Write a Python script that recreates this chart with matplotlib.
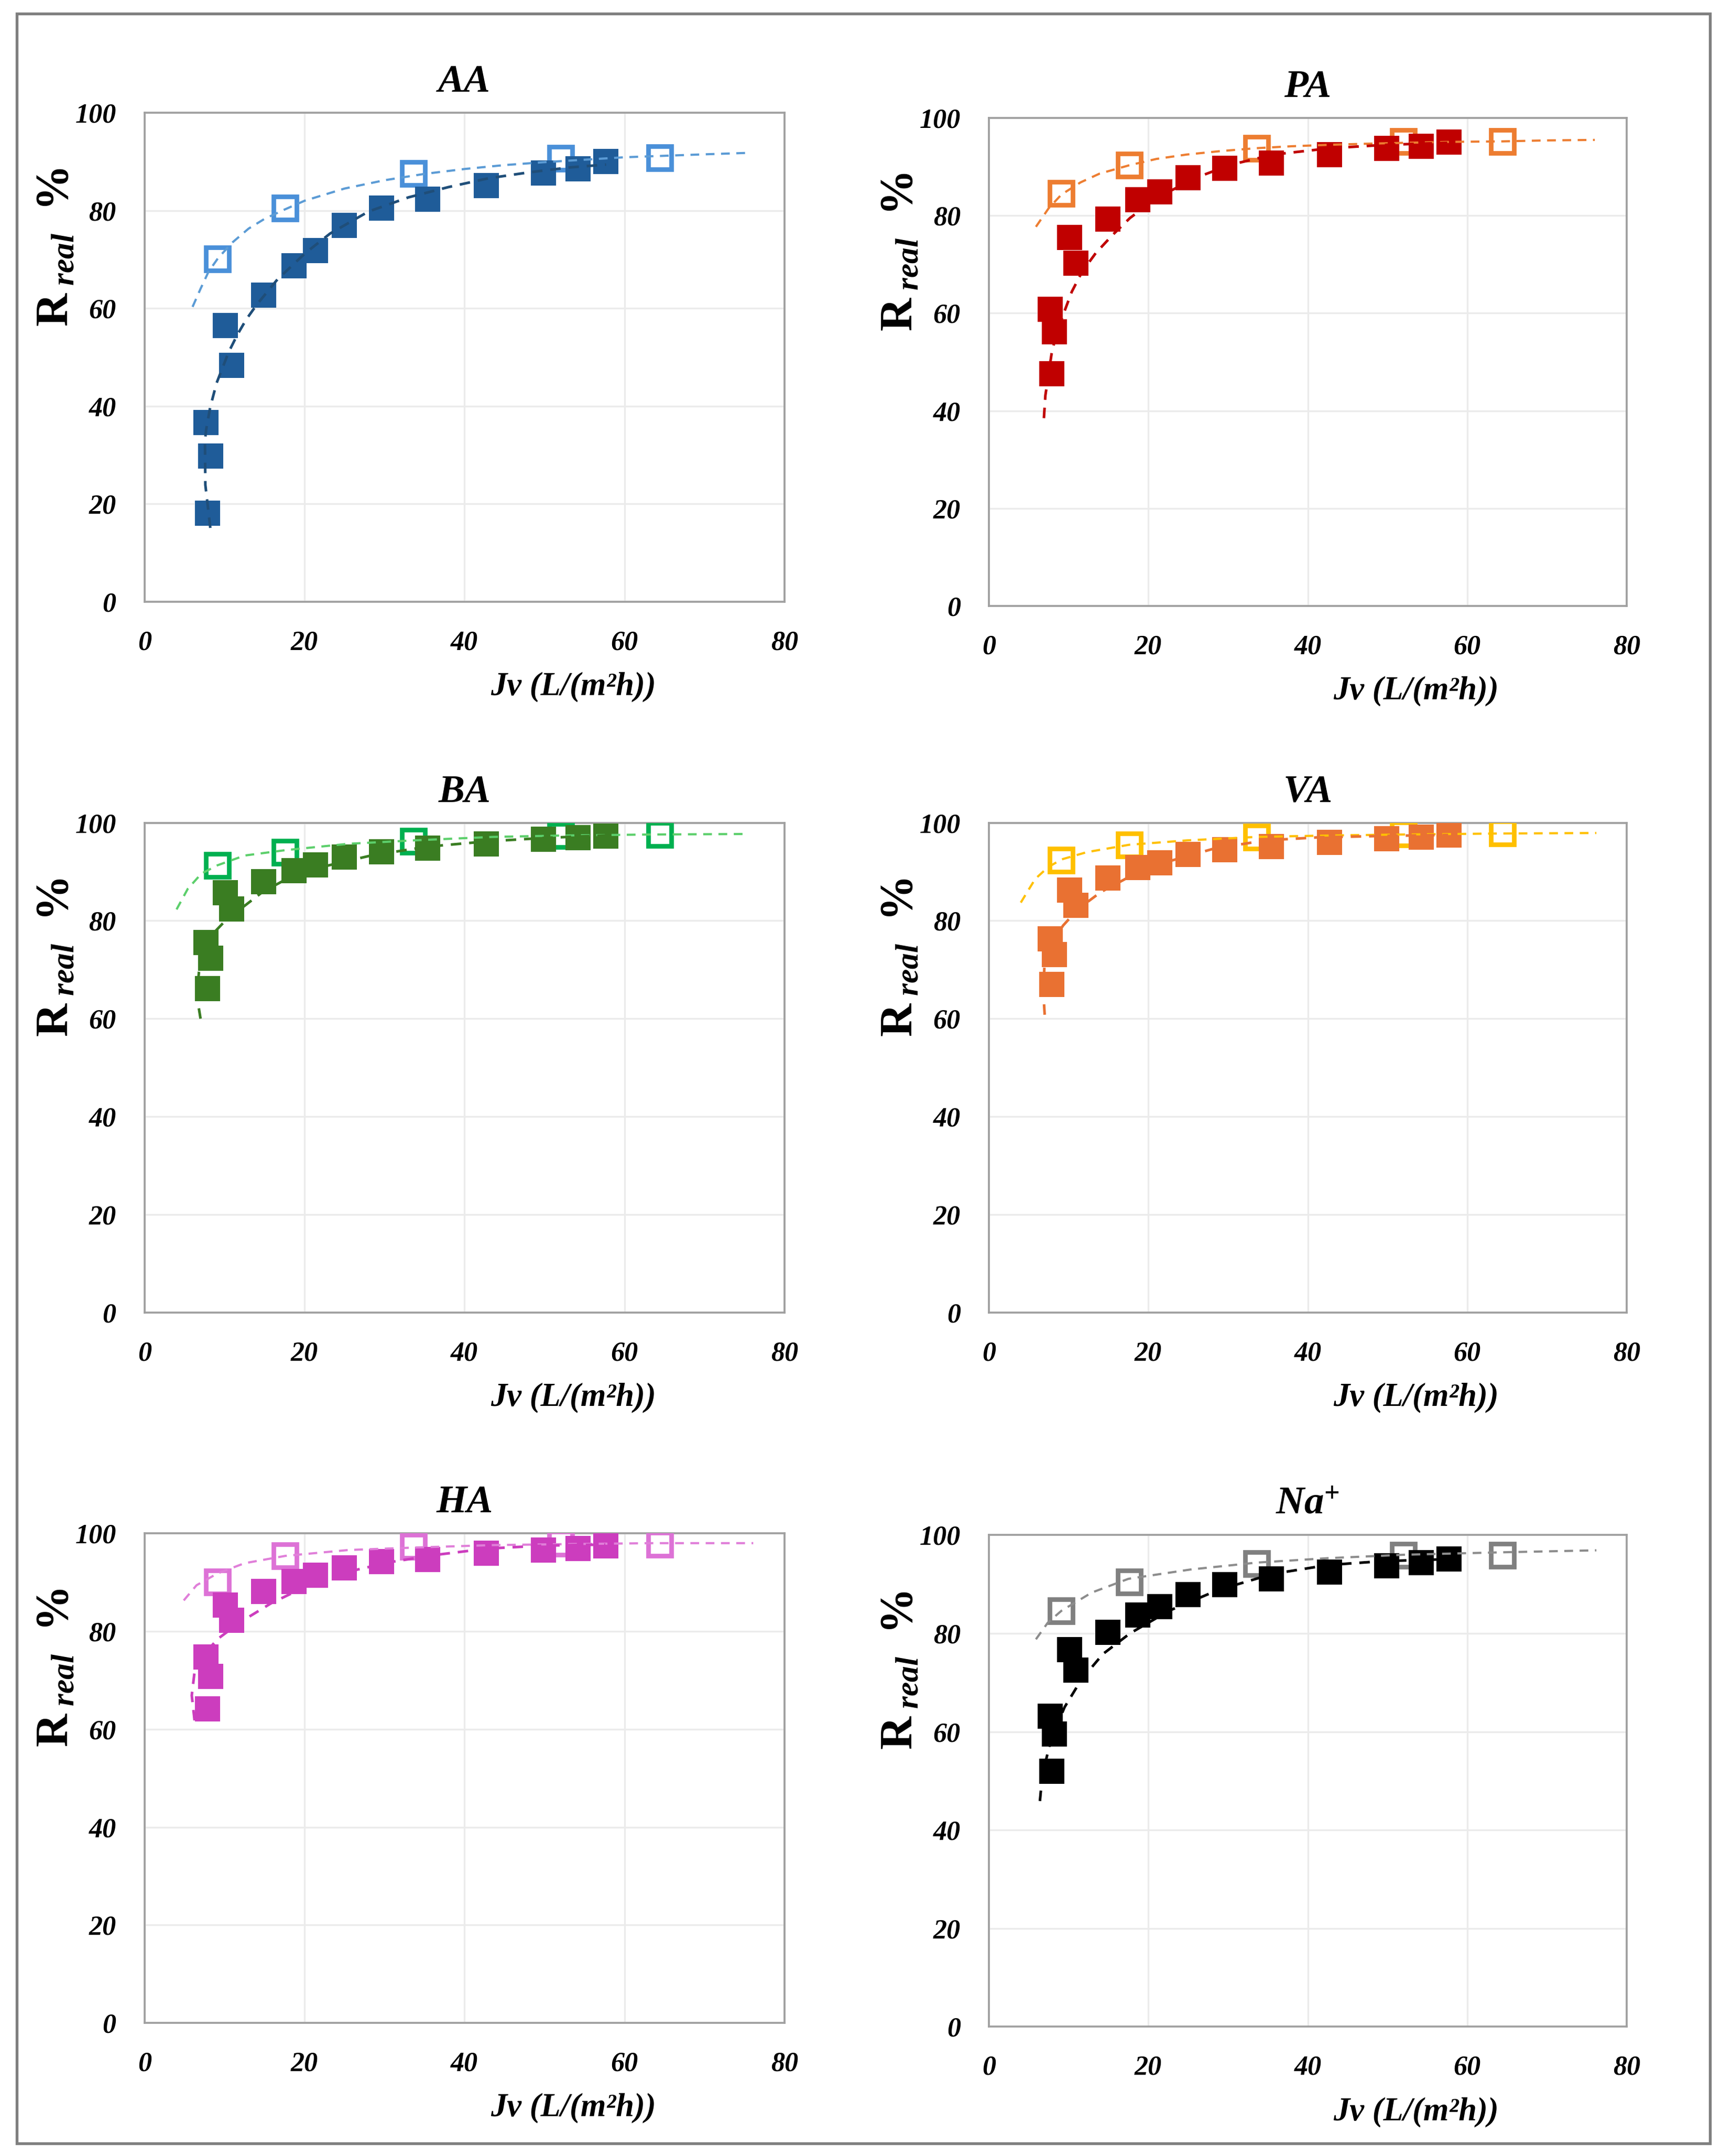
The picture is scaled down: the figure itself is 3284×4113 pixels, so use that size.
import matplotlib
matplotlib.use('Agg')
import matplotlib.pyplot as plt
from matplotlib.patches import Rectangle

plt.rcParams['font.family'] = ['Liberation Serif', 'DejaVu Serif']
plt.rcParams['mathtext.fontset'] = 'custom'
plt.rcParams['mathtext.rm'] = 'Liberation Serif'
plt.rcParams['mathtext.it'] = 'Liberation Serif:italic'
plt.rcParams['mathtext.bf'] = 'Liberation Serif:bold'
plt.rcParams['mathtext.bfit'] = 'Liberation Serif:bold:italic'

# --- Data ---
jv_filled = [7.9, 8.25, 7.7, 10.1, 10.9, 14.9, 18.7, 21.4, 25.0, 29.6, 35.4, 42.7, 49.9, 54.2, 57.7]
jv_open = [9.1, 17.6, 33.6, 52.0, 64.4]

aa_filled = [18.1, 29.8, 36.7, 56.5, 48.3, 62.7, 68.7, 71.8, 77.0, 80.5, 82.3, 85.1, 87.7, 88.5, 90.0]
pa_filled = [47.6, 56.2, 60.8, 75.5, 70.3, 79.3, 83.2, 84.9, 87.8, 89.7, 90.8, 92.5, 93.8, 94.2, 95.1]
ba_filled = [66.1, 72.3, 75.6, 85.7, 82.4, 88.0, 90.2, 91.4, 93.0, 94.1, 94.8, 95.7, 96.6, 96.9, 97.3]
va_filled = [67.0, 73.1, 76.3, 86.3, 83.2, 88.7, 90.8, 91.8, 93.5, 94.5, 95.1, 96.0, 96.7, 97.1, 97.5]
ha_filled = [64.2, 70.8, 74.7, 85.3, 82.2, 88.1, 90.2, 91.5, 93.0, 94.2, 94.7, 95.9, 96.6, 96.9, 97.4]
na_filled = [52.0, 59.5, 63.2, 76.7, 72.5, 80.2, 83.7, 85.4, 87.9, 89.9, 91.1, 92.5, 93.8, 94.4, 95.1]

aa_open = [70.1, 80.5, 87.6, 90.7, 90.8]
pa_open = [84.5, 90.3, 93.8, 95.2, 95.2]
ba_open = [91.3, 94.0, 96.2, 97.4, 97.6]
va_open = [92.3, 95.5, 97.1, 97.7, 97.9]
ha_open = [90.1, 95.4, 97.3, 98.0, 97.8]
na_open = [84.6, 90.5, 94.2, 95.9, 95.9]

# dashed trend curves
aa_light_x = [6.0, 7.0, 8.0, 9.2, 11, 13, 15, 17.5, 20, 25, 30, 35, 40, 45, 50, 55, 60, 65, 70, 75.5]
aa_light_y = [60.3, 64, 67.5, 70.3, 73.5, 76.3, 78.3, 80.2, 82, 84.5, 86.2, 87.5, 88.5, 89.3, 89.9, 90.4, 90.9, 91.2, 91.5, 91.8]
aa_dark_x = [8.22, 7.6, 7.55, 7.7, 8.2, 9.0, 10.5, 11.6, 12.7, 14.0, 16.6, 20.1, 23.2, 28, 33, 38, 43, 48, 53, 57.7]
aa_dark_y = [15.1, 23.9, 32.9, 35.2, 39.7, 44.7, 51.0, 54.6, 57.7, 60.7, 65.9, 71.3, 75.3, 79.8, 82.7, 84.8, 86.6, 87.8, 88.8, 89.4]

pa_light_x = [5.9, 7.5, 9.1, 11.5, 13.9, 17.6, 21, 24.8, 29, 33.5, 38, 42.8, 47, 52, 58, 64.4, 70, 76]
pa_light_y = [77.7, 81.5, 84.3, 86.8, 88.6, 90.3, 91.6, 92.5, 93.2, 93.8, 94.2, 94.5, 94.7, 94.9, 95.1, 95.2, 95.4, 95.5]
pa_dark_x = [6.9, 7.09, 7.47, 7.9, 8.45, 9.3, 10.4, 11.7, 13.4, 15.5, 17.7, 19.9, 22.6, 25.9, 30.3, 35.7, 42.8, 49.9, 57.5]
pa_dark_y = [38.5, 43.2, 47.3, 52.1, 55.5, 59.6, 64.4, 68.5, 72.3, 76.0, 79.5, 82.2, 84.9, 87.7, 90.4, 92.5, 93.8, 94.5, 94.9]

ba_light_x = [4.0, 5.4, 7.1, 9.1, 12.5, 17.6, 25.5, 33.7, 43.5, 52.7, 63.6, 75.5]
ba_light_y = [82.3, 86.5, 89.6, 91.3, 93.3, 94.4, 95.7, 96.4, 97.1, 97.4, 97.6, 97.7]
ba_dark_x = [7.0, 6.7, 6.6, 6.8, 7.4, 8.7, 10.1, 12.0, 14.7, 17.4, 21.2, 28.3, 35.3, 42.9, 50.0, 57.6]
ba_dark_y = [60.0, 63.0, 66.0, 69.5, 73.5, 77.6, 80.0, 82.4, 85.8, 88.2, 90.6, 93.3, 95.1, 96.2, 96.9, 97.4]

va_light_x = [4.0, 5.8, 7.4, 9.1, 12.3, 17.6, 24.9, 33.6, 42.9, 52.2, 64.2, 76.2]
va_light_y = [83.7, 88.5, 90.9, 92.5, 94.0, 95.5, 96.4, 97.1, 97.4, 97.6, 97.8, 97.9]
va_dark_x = [7.0, 6.8, 7.0, 8.0, 9.3, 11.2, 14.0, 17.2, 22.1, 28.2, 34.7, 41.2, 49.4, 57.6]
va_dark_y = [60.8, 66.0, 71.4, 75.5, 79.0, 82.4, 85.8, 88.6, 91.9, 94.7, 96.4, 97.0, 97.3, 97.5]

ha_light_x = [4.9, 6.5, 9.1, 12.5, 17.6, 25.5, 33.7, 43.5, 52.7, 63.6, 76.1]
ha_light_y = [86.3, 89.4, 91.8, 93.9, 95.4, 96.6, 97.1, 97.6, 97.8, 98.0, 98.0]
ha_dark_x = [6.25, 5.9, 6.25, 7.3, 9.2, 12.0, 15.8, 20.1, 25.5, 31.0, 36.4, 42.9, 50.0, 57.6]
ha_dark_y = [61.8, 66.9, 71.7, 75.1, 78.5, 81.9, 85.7, 89.1, 92.2, 94.2, 95.6, 96.9, 97.5, 97.7]

na_light_x = [5.9, 7.4, 9.1, 12.9, 17.5, 25.3, 33.6, 42.5, 52.1, 64.5, 76.2]
na_light_y = [78.8, 82.2, 84.6, 88.3, 91.1, 93.0, 94.4, 95.3, 96.0, 96.5, 96.9]
na_dark_x = [6.4, 6.7, 7.8, 9.5, 11.6, 14.3, 17.7, 22.6, 28.7, 35.6, 42.5, 49.4, 57.6]
na_dark_y = [45.9, 51.1, 58.5, 65.0, 70.6, 75.8, 80.0, 84.6, 88.8, 92.1, 93.9, 94.7, 95.1]

titles = ['AA', 'PA', 'BA', 'VA', 'HA', r'$\mathbfit{Na}^{\mathbf{+}}$']
x_ticks = [0, 20, 40, 60, 80]
y_ticks = [0, 20, 40, 60, 80, 100]

panels = [
    dict(title=titles[0], filled=aa_filled, opened=aa_open, lx=aa_light_x, ly=aa_light_y,
         dx=aa_dark_x, dy=aa_dark_y, cf='#1F5C99', co='#4A90D9', cd='#1F4E79', cl='#5B9BD5',
         pos=[0.0840, 0.7209, 0.3718, 0.2268]),
    dict(title=titles[1], filled=pa_filled, opened=pa_open, lx=pa_light_x, ly=pa_light_y,
         dx=pa_dark_x, dy=pa_dark_y, cf='#C00000', co='#ED7D31', cd='#C00000', cl='#ED7D31',
         pos=[0.5746, 0.7189, 0.3706, 0.2264]),
    dict(title=titles[2], filled=ba_filled, opened=ba_open, lx=ba_light_x, ly=ba_light_y,
         dx=ba_dark_x, dy=ba_dark_y, cf='#3A7D22', co='#00B050', cd='#3A7D22', cl='#5CCF6B',
         pos=[0.0840, 0.3912, 0.3718, 0.2272]),
    dict(title=titles[3], filled=va_filled, opened=va_open, lx=va_light_x, ly=va_light_y,
         dx=va_dark_x, dy=va_dark_y, cf='#E97132', co='#FFC000', cd='#E97132', cl='#FFC000',
         pos=[0.5746, 0.3912, 0.3706, 0.2272]),
    dict(title=titles[4], filled=ha_filled, opened=ha_open, lx=ha_light_x, ly=ha_light_y,
         dx=ha_dark_x, dy=ha_dark_y, cf='#CC3DBE', co='#DD72D6', cd='#CC3DBE', cl='#E07FD9',
         pos=[0.0840, 0.0617, 0.3718, 0.2271]),
    dict(title=titles[5], filled=na_filled, opened=na_open, lx=na_light_x, ly=na_light_y,
         dx=na_dark_x, dy=na_dark_y, cf='#000000', co='#808080', cd='#000000', cl='#8C8C8C',
         pos=[0.5746, 0.0600, 0.3706, 0.2280]),
]

fig = plt.figure(figsize=(3284 / 300, 4113 / 300), dpi=300)
fig.patch.set_facecolor('white')

# outer frame
fig.add_artist(Rectangle((0.0098, 0.0058), 0.9838, 0.9878, transform=fig.transFigure,
                         fill=False, edgecolor='#7F7F7F', linewidth=1.3))

for p in panels:
    ax = fig.add_axes(p['pos'])
    ax.set_xlim(0, 80)
    ax.set_ylim(0, 100)
    ax.set_xticks(x_ticks)
    ax.set_yticks(y_ticks)
    ax.grid(True, color='#EBEBEB', linewidth=0.8)
    ax.set_axisbelow(True)
    for s in ax.spines.values():
        s.set_color('#A0A0A0')
        s.set_linewidth(0.9)
    ax.tick_params(length=0, pad=13)
    for lab in ax.get_xticklabels() + ax.get_yticklabels():
        lab.set_fontfamily('Liberation Serif')
        lab.set_fontstyle('italic')
        lab.set_fontweight('bold')
        lab.set_fontsize(12.5)

    ax.plot(jv_open, p['opened'], linestyle='none', marker='s', markersize=10.5,
            markerfacecolor='white', markeredgecolor=p['co'], markeredgewidth=2.1, zorder=3)
    ax.plot(jv_filled, p['filled'], linestyle='none', marker='s', markersize=11.5,
            markerfacecolor=p['cf'], markeredgecolor=p['cf'], markeredgewidth=0, zorder=3)
    ax.plot(p['lx'], p['ly'], color=p['cl'], linewidth=1.0, linestyle=(0, (4, 3)), zorder=4)
    ax.plot(p['dx'], p['dy'], color=p['cd'], linewidth=1.2, linestyle=(0, (4, 3)), zorder=4)

    ax.text(0.5, 1.062, p['title'], transform=ax.transAxes, ha='center', va='center',
            fontsize=18, fontstyle='italic', fontweight='bold')
    ax.text(0.67, -0.174, 'Jv (L/(m\u00b2h))', transform=ax.transAxes, ha='center', va='center',
            fontsize=15, fontstyle='italic', fontweight='bold')
    ax.text(-0.138, 0.725, r'$\mathbf{R}_{\ \mathbfit{real}}\ \ \mathbf{\%}$', transform=ax.transAxes,
            ha='center', va='center', rotation=90, fontsize=21)

fig.savefig('out.png', dpi=300, facecolor='white')
